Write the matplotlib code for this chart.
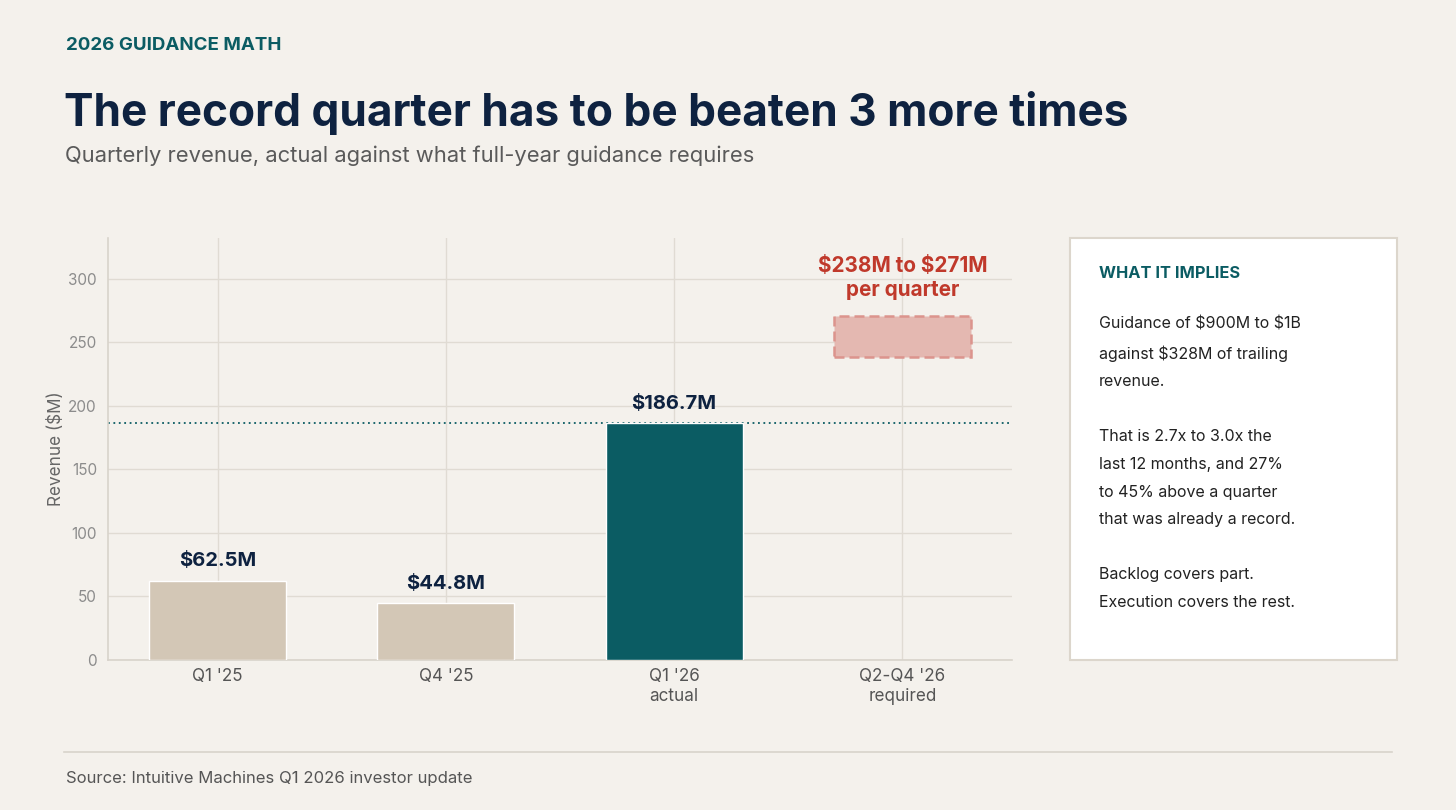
import matplotlib
matplotlib.use("Agg")
import matplotlib.pyplot as plt
import matplotlib.patches as mpatches

plt.rcParams["font.family"] = ["Inter", "DejaVu Sans"]
plt.rcParams["text.parse_math"] = False

# ── data ───────────────────────────────────────────────────────────────────
categories = ["Q1 '25", "Q4 '25", "Q1 '26\nactual", "Q2-Q4 '26\nrequired"]
revenue = [62.5, 44.8, 186.7]
bar_labels = ["$62.5M", "$44.8M", "$186.7M"]
required_low, required_high = 238, 271
yticks = [0, 50, 100, 150, 200, 250, 300]
notes = ("Guidance of $900M to $1B\nagainst $328M of trailing\nrevenue.\n\n"
         "That is 2.7x to 3.0x the\nlast 12 months, and 27%\nto 45% above a quarter\n"
         "that was already a record.\n\nBacklog covers part.\nExecution covers the rest.")

# ── colours ────────────────────────────────────────────────────────────────
BG = "#f4f1ec"
TEAL = "#0b5c63"
TAN = "#d3c7b6"
NAVY = "#0e2240"
RED = "#c0392b"
GRID = "#e0dbd3"

fig = plt.figure(figsize=(14.56, 8.10), dpi=100, facecolor=BG)

fig.text(66 / 1456, 1 - 45 / 810, "2026 GUIDANCE MATH", color=TEAL, fontsize=13.5,
         fontweight="bold", va="center", ha="left")
fig.text(64 / 1456, 1 - 113 / 810, "The record quarter has to be beaten 3 more times",
         color=NAVY, fontsize=31.8, fontweight="bold", va="center", ha="left")
fig.text(65 / 1456, 1 - 156 / 810,
         "Quarterly revenue, actual against what full-year guidance requires",
         color="#5a5a5a", fontsize=15.8, va="center", ha="left")

# ── main chart ─────────────────────────────────────────────────────────────
ax = fig.add_axes([108 / 1456, 150 / 810, 904 / 1456, 422 / 810])
ax.set_facecolor(BG)
x = list(range(len(categories)))
colors = [TAN, TAN, TEAL]
ax.bar(x[:3], revenue, width=0.6, color=colors, edgecolor="white", linewidth=1, zorder=3)
for xi, v, lab in zip(x, revenue, bar_labels):
    ax.text(xi, v + 8, lab, ha="center", va="bottom", fontsize=14.5,
            fontweight="bold", color=NAVY, zorder=4)

ax.axhline(revenue[2], color=TEAL, linestyle=(0, (1, 2)), linewidth=1.3, zorder=2)

ax.add_patch(mpatches.Rectangle((x[3] - 0.3, required_low), 0.6,
                                required_high - required_low,
                                facecolor="#e4b8b1", edgecolor="#dc948d",
                                linestyle=(0, (4, 2)), linewidth=1.8, zorder=3))
ax.text(x[3], 283, f"${required_low}M to ${required_high}M\nper quarter", ha="center",
        va="bottom", fontsize=14.9, fontweight="bold", color=RED, linespacing=1.25)

ax.set_xlim(-0.48, 3.48)
ax.set_ylim(0, 332)
ax.set_yticks(yticks)
ax.set_xticks(x)
ax.set_xticklabels(categories, fontsize=12.3, color="#555555", linespacing=1.2)
ax.tick_params(axis="y", length=0, labelsize=11, labelcolor="#8c8c8c", pad=8)
ax.tick_params(axis="x", length=0, pad=6)
ax.set_ylabel("Revenue ($M)", fontsize=12.3, color="#666666", labelpad=2)
ax.grid(True, color=GRID, linewidth=1, zorder=0)
ax.set_axisbelow(True)
for s in ["top", "right"]:
    ax.spines[s].set_visible(False)
for s in ["left", "bottom"]:
    ax.spines[s].set_color("#d8d3cb")
    ax.spines[s].set_linewidth(1.2)

# ── side note box ──────────────────────────────────────────────────────────
box = mpatches.Rectangle((1070 / 1456, 150 / 810), 327 / 1456, 422 / 810,
                         transform=fig.transFigure, facecolor="white",
                         edgecolor="#dcd6cc", linewidth=1.5)
fig.patches.append(box)
fig.text(1099 / 1456, 1 - 273 / 810, "WHAT IT IMPLIES", color=TEAL, fontsize=11.8,
         fontweight="bold", va="center", ha="left")
fig.text(1099 / 1456, 1 - 316 / 810, notes, color="#222222", fontsize=11.5,
         va="top", ha="left", linespacing=2.05)

# ── footer ─────────────────────────────────────────────────────────────────
fig.add_artist(plt.Line2D([64 / 1456, 1392 / 1456], [1 - 752 / 810, 1 - 752 / 810],
                          transform=fig.transFigure, color="#d8d3cb", linewidth=1.2))
fig.text(66 / 1456, 1 - 778 / 810, "Source: Intuitive Machines Q1 2026 investor update",
         color="#555555", fontsize=12, va="center", ha="left")

fig.savefig("out.png", dpi=100, facecolor=BG)
